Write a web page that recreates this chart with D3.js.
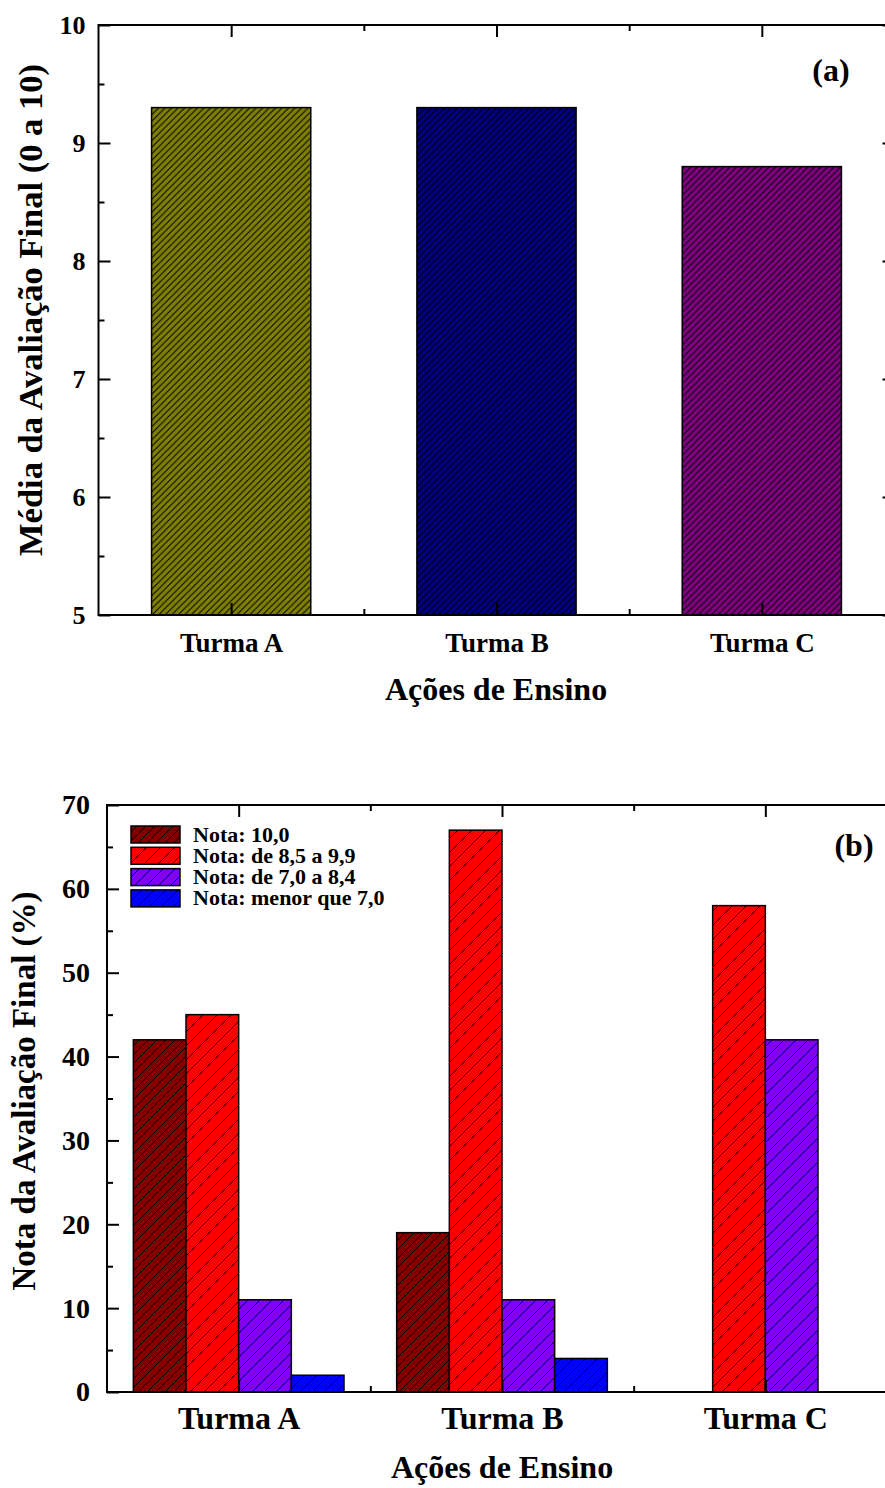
<!DOCTYPE html>
<html>
<head>
<meta charset="utf-8">
<script src="https://cdnjs.cloudflare.com/ajax/libs/d3/7.8.5/d3.min.js"></script>
<style>
  body { margin: 0; background: #fff; }
  svg { display: block; }
  text { font-family: "Liberation Serif", "Times New Roman", serif; font-weight: bold; fill: #000; }
</style>
</head>
<body>
<svg id="chart" width="885" height="1488"></svg>
<script>
// categorias
const turmas = ['Turma A', 'Turma B', 'Turma C'];

// (a) média da avaliação final
const medias = [9.3, 9.3, 8.8];
const coresMedia = ['#7f7f00', '#000080', '#800080'];
const ticksA = [5, 6, 7, 8, 9, 10];

// (b) distribuição das notas (%)
const faixas = ['Nota: 10,0', 'Nota: de 8,5 a 9,9', 'Nota: de 7,0 a 8,4', 'Nota: menor que 7,0'];
const nota10 = [42, 19, 0];
const nota85 = [45, 67, 58];
const nota70 = [11, 11, 42];
const notaMenor = [2, 4, 0];
const coresFaixa = ['#800000', '#ff0000', '#8000ff', '#0000ff'];
const ticksB = [0, 10, 20, 30, 40, 50, 60, 70];

const svg = d3.select('#chart');
const defs = svg.append('defs');

// padrão hachurado "/"
function hatch(id, color, s) {
    const p = defs.append('pattern')
        .attr('id', id)
        .attr('patternUnits', 'userSpaceOnUse')
        .attr('width', s).attr('height', s);
    p.append('rect').attr('width', s).attr('height', s).attr('fill', color);
    p.append('path')
        .attr('d', `M0,${s} L${s},0 M${-s/2},${s/2} L${s/2},${-s/2} M${s/2},${s*1.5} L${s*1.5},${s/2}`)
        .attr('stroke', '#000').attr('stroke-width', 1);
    return `url(#${id})`;
}

function estiloEixo(g) {
    g.select('.domain').remove();
    g.selectAll('line').attr('stroke', '#000').attr('stroke-width', 2);
}

// ---------- (a) ----------
const xA = d3.scaleBand().domain(turmas).range([98.5, 894.5]).padding(0);
const yA = d3.scaleLinear().domain([5, 10]).range([615, 25]);
const gA = svg.append('g');

gA.selectAll('rect.bar')
    .data(medias)
    .enter().append('rect')
    .attr('class', 'bar')
    .attr('x', (d, i) => xA(turmas[i]) + xA.bandwidth() * 0.2)
    .attr('width', xA.bandwidth() * 0.6)
    .attr('y', d => yA(d))
    .attr('height', d => yA(5) - yA(d))
    .attr('fill', (d, i) => hatch('ha' + i, coresMedia[i], 6.5))
    .attr('stroke', '#000').attr('stroke-width', 1.5);

// eixos y (esquerda e direita)
gA.append('g').attr('transform', 'translate(98.5,0)')
    .call(d3.axisLeft(yA).tickValues(ticksA).tickSize(-12).tickPadding(13).tickFormat(d3.format('d')))
    .call(estiloEixo)
    .selectAll('text').style('font-size', '26px').style('font-family', null);
gA.append('g').attr('transform', 'translate(98.5,0)')
    .call(d3.axisLeft(yA).tickValues(d3.range(5.5, 10, 1)).tickSize(-6).tickFormat(''))
    .call(estiloEixo);
gA.append('g').attr('transform', 'translate(894.5,0)')
    .call(d3.axisRight(yA).tickValues(ticksA).tickSize(-12).tickFormat(''))
    .call(estiloEixo);

// eixos x (baixo e cima)
const centrosA = turmas.map(t => xA(t) + xA.bandwidth() / 2);
const limitesA = turmas.slice(1).map(t => xA(t));
const xLinA = d3.scaleIdentity();
gA.append('g').attr('transform', 'translate(0,615)')
    .call(d3.axisBottom(xLinA).tickValues(centrosA).tickSize(-12).tickPadding(18).tickFormat((d, i) => turmas[i]))
    .call(estiloEixo)
    .selectAll('text').style('font-size', '27px').style('font-family', null);
gA.append('g').attr('transform', 'translate(0,615)')
    .call(d3.axisBottom(xLinA).tickValues(limitesA).tickSize(-6).tickFormat(''))
    .call(estiloEixo);
gA.append('g').attr('transform', 'translate(0,25)')
    .call(d3.axisTop(xLinA).tickValues(centrosA).tickSize(-12).tickFormat(''))
    .call(estiloEixo);
gA.append('g').attr('transform', 'translate(0,25)')
    .call(d3.axisTop(xLinA).tickValues(limitesA).tickSize(-6).tickFormat(''))
    .call(estiloEixo);

gA.append('rect').attr('x', 98.5).attr('y', 25).attr('width', 796).attr('height', 590)
    .attr('fill', 'none').attr('stroke', '#000').attr('stroke-width', 2);

gA.append('text').attr('x', 831).attr('y', 81).attr('text-anchor', 'middle')
    .style('font-size', '32px').text('(a)');
gA.append('text').attr('x', 496).attr('y', 700).attr('text-anchor', 'middle')
    .style('font-size', '32px').text('Ações de Ensino');
gA.append('text').attr('transform', 'translate(42,310) rotate(-90)').attr('text-anchor', 'middle')
    .style('font-size', '34.5px').text('Média da Avaliação Final (0 a 10)');

// ---------- (b) ----------
const series = [nota10, nota85, nota70, notaMenor];
const espacos = [9, 14, 12, 12];
const xB = d3.scaleBand().domain(turmas).range([107, 897]).padding(0);
const xSub = d3.scaleBand().domain(d3.range(4)).range([0, xB.bandwidth() * 0.8]);
const yB = d3.scaleLinear().domain([0, 70]).range([1392, 805]);
const gB = svg.append('g');
const padroes = coresFaixa.map((c, i) => hatch('hb' + i, c, espacos[i]));

turmas.forEach((t, ti) => {
    const x0 = xB(t) + xB.bandwidth() * 0.1;
    gB.selectAll('rect.g' + ti)
        .data(series.map((s, si) => ({ v: s[ti], si })).filter(d => d.v > 0))
        .enter().append('rect')
        .attr('x', d => x0 + xSub(d.si))
        .attr('width', xSub.bandwidth())
        .attr('y', d => yB(d.v))
        .attr('height', d => yB(0) - yB(d.v))
        .attr('fill', d => padroes[d.si])
        .attr('stroke', '#000').attr('stroke-width', 1.5);
});

gB.append('g').attr('transform', 'translate(107,0)')
    .call(d3.axisLeft(yB).tickValues(ticksB).tickSize(-12).tickPadding(17).tickFormat(d3.format('d')))
    .call(estiloEixo)
    .selectAll('text').style('font-size', '28px').style('font-family', null);
gB.append('g').attr('transform', 'translate(107,0)')
    .call(d3.axisLeft(yB).tickValues(d3.range(5, 70, 10)).tickSize(-6).tickFormat(''))
    .call(estiloEixo);
gB.append('g').attr('transform', 'translate(897,0)')
    .call(d3.axisRight(yB).tickValues(ticksB).tickSize(-12).tickFormat(''))
    .call(estiloEixo);

const centrosB = turmas.map(t => xB(t) + xB.bandwidth() / 2);
const limitesB = turmas.slice(1).map(t => xB(t));
gB.append('g').attr('transform', 'translate(0,1392)')
    .call(d3.axisBottom(xLinA).tickValues(centrosB).tickSize(-12).tickPadding(14).tickFormat((d, i) => turmas[i]))
    .call(estiloEixo)
    .selectAll('text').style('font-size', '32px').style('font-family', null);
gB.append('g').attr('transform', 'translate(0,1392)')
    .call(d3.axisBottom(xLinA).tickValues(limitesB).tickSize(-6).tickFormat(''))
    .call(estiloEixo);
gB.append('g').attr('transform', 'translate(0,805)')
    .call(d3.axisTop(xLinA).tickValues(centrosB).tickSize(-12).tickFormat(''))
    .call(estiloEixo);
gB.append('g').attr('transform', 'translate(0,805)')
    .call(d3.axisTop(xLinA).tickValues(limitesB).tickSize(-6).tickFormat(''))
    .call(estiloEixo);

gB.append('rect').attr('x', 107).attr('y', 805).attr('width', 790).attr('height', 587)
    .attr('fill', 'none').attr('stroke', '#000').attr('stroke-width', 2);

// legenda
const leg = gB.append('g');
faixas.forEach((f, i) => {
    const yc = 834.5 + i * 21.3;
    leg.append('rect').attr('x', 131).attr('y', yc - 8.5).attr('width', 49).attr('height', 17)
        .attr('fill', padroes[i]).attr('stroke', '#000').attr('stroke-width', 1.5);
    leg.append('text').attr('x', 193).attr('y', yc + 7).style('font-size', '22px').text(f);
});

gB.append('text').attr('x', 854).attr('y', 856).attr('text-anchor', 'middle')
    .style('font-size', '32px').text('(b)');
gB.append('text').attr('x', 502).attr('y', 1478).attr('text-anchor', 'middle')
    .style('font-size', '32px').text('Ações de Ensino');
gB.append('text').attr('transform', 'translate(35,1091) rotate(-90)').attr('text-anchor', 'middle')
    .style('font-size', '33px').text('Nota da Avaliação Final (%)');
</script>
</body>
</html>
